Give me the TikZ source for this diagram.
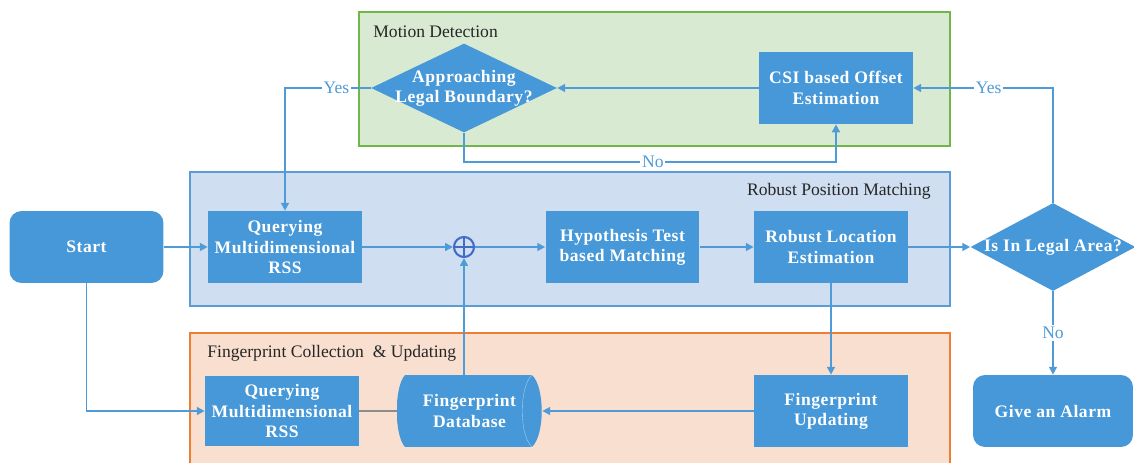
\documentclass[tikz,border=0pt]{standalone}
\usepackage{fontspec}
\setmainfont{Liberation Serif}
\newfontfamily\boxfont{Liberation Serif}[LetterSpace=3]
\usetikzlibrary{shapes.geometric, arrows.meta}
\definecolor{myboxblue}{RGB}{70,152,216}
\definecolor{mylineblue}{RGB}{78,155,216}
\definecolor{myplusblue}{RGB}{66,108,200}
\definecolor{mygreenfill}{RGB}{216,234,210}
\definecolor{mygreenline}{RGB}{112,182,72}
\definecolor{mybluefill}{RGB}{207,222,240}
\definecolor{myblueline}{RGB}{92,156,214}
\definecolor{myorangefill}{RGB}{249,223,207}
\definecolor{myorangeline}{RGB}{240,126,50}
\tikzset{
    common/.style={fill=myboxblue, text=white, font=\boxfont\bfseries\fontsize{10}{11.5}\selectfont, align=center, inner sep=0pt},
    block/.style={common, rectangle, minimum width=3.08cm, minimum height=1.44cm},
    terminal/.style={block, rounded corners=0.24cm},
    decision/.style={common, diamond, aspect=2.09, inner xsep=-9pt},
    drum/.style={text=white, font=\boxfont\bfseries\fontsize{10}{11.5}\selectfont, align=center, inner sep=0pt,
        minimum width=2.9cm, minimum height=1.44cm,
        path picture={
            \fill[myboxblue] ([xshift=0.16cm]path picture bounding box.north west)
                .. controls +(-0.22cm,-0.24cm) and +(-0.22cm,0.24cm) .. ([xshift=0.16cm]path picture bounding box.south west)
                -- ([xshift=-0.2cm]path picture bounding box.south east)
                .. controls +(0.26cm,0.24cm) and +(0.26cm,-0.24cm) .. ([xshift=-0.2cm]path picture bounding box.north east)
                -- cycle;
            \draw[white!55!myboxblue, very thin] ([xshift=-0.2cm]path picture bounding box.north east)
                .. controls +(-0.26cm,-0.24cm) and +(-0.26cm,0.24cm) .. ([xshift=-0.2cm]path picture bounding box.south east);
        }
    },
    oplus/.style={circle, draw=myplusblue, line width=1.2pt, minimum size=0.4cm, inner sep=0pt,
        path picture={
            \draw[myplusblue, line width=1.2pt]
                (path picture bounding box.north)--(path picture bounding box.south)
                (path picture bounding box.west)--(path picture bounding box.east);
        }
    },
    flow/.style={draw=mylineblue, line width=1pt, -{Triangle[length=4.5pt, width=4.5pt]}},
    tag/.style={fill=white, text=mylineblue, inner sep=1pt, font=\fontsize{10}{12}\selectfont},
    frametitle/.style={inner sep=0pt, text=black!85, font=\fontsize{10}{12}\selectfont}
}
\begin{document}
\begin{tikzpicture}[x=0.02cm, y=-0.02cm]
    \useasboundingbox (0,0) rectangle (1134,463);

    % stage frames
    \filldraw[fill=mygreenfill, draw=mygreenline, line width=1pt] (359,12) rectangle (950,146);
    \filldraw[fill=mybluefill, draw=myblueline, line width=1pt] (190,172) rectangle (950,306);
    \fill[myorangefill] (190,333) rectangle (950,463);
    \draw[myorangeline, line width=1pt] (190,463) -- (190,333) -- (950,333) -- (950,463);
    \node[frametitle, anchor=west] (motiontitle) at (373,32) {Motion Detection};
    \node[frametitle, anchor=east] (matchtitle) at (931,191) {Robust Position Matching};
    \node[frametitle, anchor=west] (collecttitle) at (207,353) {Fingerprint Collection \ \& Updating};

    % main row
    \node[terminal] (start) at (86.5,247) {Start};
    \node[block] (query) at (285,247) {Querying\\Multidimensional\\RSS};
    \node[oplus] (plus) at (464,247) {};
    \node[block] (hypo) at (622.5,247) {Hypothesis Test\\based Matching};
    \node[block] (robust) at (831,247) {Robust Location\\Estimation};
    \node[decision, minimum width=3.3cm, minimum height=1.76cm] (legal) at (1053,247) {Is In Legal Area?};

    % motion detection
    \node[decision, minimum width=3.72cm, minimum height=1.78cm] (approach) at (464,88) {Approaching\\Legal Boundary?};
    \node[block] (offset) at (836,88) {CSI based Offset\\Estimation};
    \coordinate (nobend) at (464,162);

    % fingerprint collection
    \node[block, minimum height=1.42cm] (collect) at (282,411) {Querying\\Multidimensional\\RSS};
    \node[drum] (database) at (469.5,411) {Fingerprint\\Database};
    \node[block] (update) at (831,411) {Fingerprint\\Updating};
    \node[terminal, minimum width=3.2cm] (alarm) at (1053,411) {Give an Alarm};

    \draw[flow] (start) -- (query);
    \draw[flow] (query) -- (plus);
    \draw[flow] (plus) -- (hypo);
    \draw[flow] (hypo) -- (robust);
    \draw[flow] (robust) -- (legal);
    \draw[flow] (legal) |- node[tag, pos=0.73] {Yes} (offset);
    \draw[flow] (offset) -- (approach);
    \draw[flow] (approach) -| node[tag, pos=0.2] {Yes} (query);
    \draw[flow] (approach.south) -- (nobend) -| node[tag, pos=0.254] {No} (offset.south);
    \draw[flow] (legal) -- node[tag] {No} (alarm);
    \draw[flow] (robust) -- (update);
    \draw[flow] (update) -- (database);
    \draw[flow] (database.north -| plus) -- (plus);
    \draw[black!45, line width=0.6pt] (collect) -- (database);
    \draw[flow] (start) |- (collect);
\end{tikzpicture}
\end{document}
